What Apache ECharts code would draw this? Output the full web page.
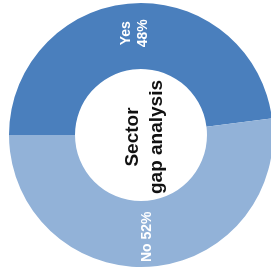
<!DOCTYPE html>
<html lang="en">
<head>
<meta charset="UTF-8" />
<title>Sector gap analysis</title>
<style>
* { margin: 0; padding: 0; }
#chart { width: 271px; height: 273px; background: #fff; }
</style>
</head>
<body>
<div id="chart"></div>
<script src="https://cdn.jsdelivr.net/npm/echarts@6/dist/echarts.min.js"></script>
<script>
const categories = ['Yes', 'No'];
const shares = [48, 52];
const sliceColors = ['#4a7fbd', '#92b2d8'];

const chart = echarts.init(document.getElementById('chart'));

chart.setOption({
  animation: false,
  graphic: [
    {
      // centre caption, turned to read bottom-up like the slice labels
      type: 'text',
      x: 145,
      y: 137,
      rotation: Math.PI / 2,
      style: {
        text: 'Sector\ngap analysis',
        font: 'bold 19px "Liberation Sans", Arial, sans-serif',
        lineHeight: 24,
        fill: '#111',
        align: 'center',
        verticalAlign: 'middle'
      }
    }
  ],
  series: [
    {
      type: 'pie',
      center: [141, 135],
      radius: [66, 132],
      startAngle: 180,
      clockwise: true,
      silent: true,
      labelLine: { show: false },
      label: {
        position: 'inside',
        color: '#fff',
        fontFamily: '"Liberation Sans", Arial, sans-serif',
        fontWeight: 'bold',
        fontSize: 14,
        lineHeight: 17
      },
      labelLayout: { rotate: 90 },
      data: categories.map(function (name, i) {
        return {
          name: name,
          value: shares[i],
          itemStyle: { color: sliceColors[i] },
          label: {
            formatter: i === 0 ? '{b}\n{d}%' : '{b} {d}%'
          }
        };
      })
    }
  ]
});
</script>
</body>
</html>
